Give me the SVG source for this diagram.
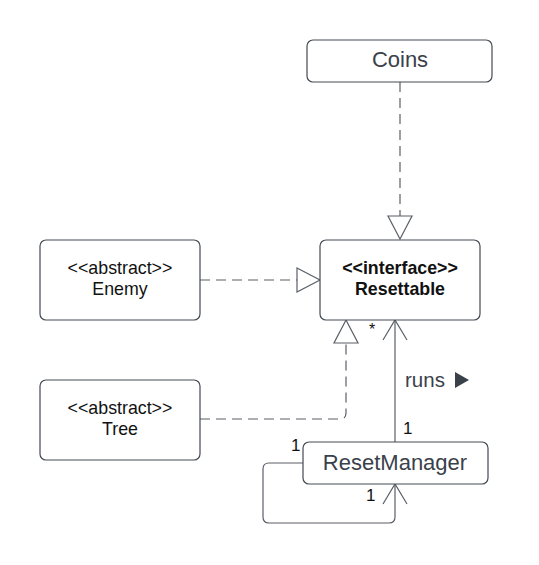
<svg xmlns="http://www.w3.org/2000/svg" width="539" height="565" viewBox="0 0 539 565">
<style>
.box{fill:#fff;stroke:#444a52;stroke-width:1.2}
.ln{fill:none;stroke:#5a5f66;stroke-width:1.2}
.dash{stroke-dasharray:10,6}
.t{font-family:"Liberation Sans",Arial,sans-serif;text-anchor:middle}
.big{font-size:22px;fill:#3a414a}
.sm{font-size:17.8px;fill:#111}
.lab{font-family:"Liberation Sans",Arial,sans-serif;font-size:17px;fill:#111}
</style>
<rect width="539" height="565" fill="#fff"/>
<g id="connectors">
<path class="ln dash" d="M400,82 V216"/>
<polygon class="ln" fill="#fff" points="388,216 412,216 400,239"/>
<path class="ln dash" d="M200,280 H297"/>
<polygon class="ln" fill="#fff" points="297,268 320,280 297,292"/>
<path class="ln dash" d="M200,419 H340 Q346,419 346,413 V343"/>
<polygon class="ln" fill="#fff" points="334,343 358,343 346,320"/>
<path class="ln" d="M395,442 V320"/>
<path class="ln" d="M383,340 L395,320 L407,340"/>
<path class="ln" d="M303,463 H269 Q263,463 263,469 V517 Q263,523 269,523 H389 Q395,523 395,517 V484"/>
<path class="ln" d="M383,504 L395,484 L407,504"/>
<text x="369" y="335" class="lab" style="font-size:16px">*</text>
<text x="405" y="387" font-family="Liberation Sans,Arial,sans-serif" font-size="20.5" fill="#3a414a">runs</text>
<polygon points="455,372 469,380 455,388" fill="#3a414a"/>
<text x="403" y="434" class="lab">1</text>
<text x="291" y="451" class="lab">1</text>
<text x="366" y="501" class="lab">1</text>
</g>
<g id="coins">
<rect class="box" x="307" y="40" width="185" height="42" rx="6"/>
<text x="400" y="67" class="t big">Coins</text>
</g>
<g id="resettable">
<rect class="box" x="320" y="240" width="160" height="80" rx="6"/>
<text x="400" y="274" class="t sm" font-weight="bold">&lt;&lt;interface&gt;&gt;</text>
<text x="400" y="295" class="t sm" font-weight="bold">Resettable</text>
</g>
<g id="enemy">
<rect class="box" x="40" y="240" width="160" height="80" rx="6"/>
<text x="120" y="274" class="t sm">&lt;&lt;abstract&gt;&gt;</text>
<text x="120" y="295" class="t sm">Enemy</text>
</g>
<g id="tree">
<rect class="box" x="40" y="380" width="160" height="80" rx="6"/>
<text x="120" y="414" class="t sm">&lt;&lt;abstract&gt;&gt;</text>
<text x="120" y="435" class="t sm">Tree</text>
</g>
<g id="resetmanager">
<rect class="box" x="303" y="442" width="185" height="42" rx="6"/>
<text x="395" y="470" class="t big">ResetManager</text>
</g>
</svg>
